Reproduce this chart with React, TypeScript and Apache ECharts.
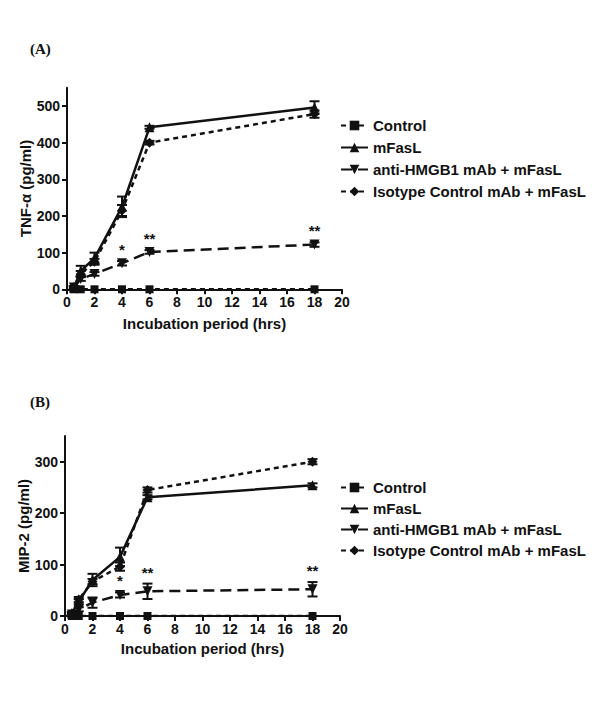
import React, { useEffect, useRef } from "react";
import * as echarts from "echarts";

const times = [0.5, 1, 2, 4, 6, 18];
const seriesNames = ["Control", "mFasL", "anti-HMGB1 mAb + mFasL", "Isotype Control mAb + mFasL"];

// Panel A: TNF-alpha (pg/ml)
const ctrlA = [0, 0, 0, 0, 0, 0];
const mfaslA = [5, 50, 85, 225, 442, 496];
const antiA = [5, 28, 42, 71, 102, 122];
const isoA = [5, 42, 75, 215, 400, 478];
const ctrlAErr = [0, 0, 0, 0, 0, 0];
const mfaslAErr = [4, 14, 15, 28, 4, 17];
const antiAErr = [3, 5, 5, 6, 5, 6];
const isoAErr = [3, 8, 8, 15, 5, 10];
const sigA = [
  { t: 4, label: "*" },
  { t: 6, label: "**" },
  { t: 18, label: "**" },
];

// Panel B: MIP-2 (pg/ml)
const ctrlB = [0, 0, 0, 0, 0, 0];
const mfaslB = [5, 28, 70, 115, 231, 254];
const antiB = [3, 13, 26, 41, 48, 52];
const isoB = [5, 32, 67, 96, 245, 300];
const ctrlBErr = [0, 0, 0, 0, 0, 0];
const mfaslBErr = [3, 5, 12, 18, 4, 4];
const antiBErr = [2, 4, 10, 5, 15, 14];
const isoBErr = [3, 5, 5, 8, 5, 5];
const sigB = [
  { t: 4, label: "*" },
  { t: 6, label: "**" },
  { t: 18, label: "**" },
];

const xTicks = [0, 2, 4, 6, 8, 10, 12, 14, 16, 18, 20];
const yTicksA = [0, 100, 200, 300, 400, 500];
const yTicksB = [0, 100, 200, 300];

const INK = "#111";
const FONT = "Liberation Sans";

const styles = [
  { symbol: "rect", rotate: 0, dash: [5, 4] as any, size: 8 },
  { symbol: "triangle", rotate: 0, dash: "solid" as any, size: 10 },
  { symbol: "triangle", rotate: 180, dash: [11, 6] as any, size: 10 },
  { symbol: "diamond", rotate: 0, dash: [5, 4] as any, size: 10 },
];

function errSeries(idx: number, vals: number[], errs: number[]) {
  const data = times.map((t, i) => [t, vals[i], errs[i]]);
  return {
    type: "custom",
    xAxisIndex: idx,
    yAxisIndex: idx,
    silent: true,
    z: 1,
    data,
    renderItem: (params: any, api: any) => {
      const x = api.value(0);
      const y = api.value(1);
      const e = api.value(2);
      if (!e) return { type: "group", children: [] };
      const lo = api.coord([x, y - e]);
      const hi = api.coord([x, y + e]);
      const hw = 5;
      const st = { stroke: INK, lineWidth: 2 };
      return {
        type: "group",
        children: [
          { type: "line", shape: { x1: lo[0], y1: lo[1], x2: hi[0], y2: hi[1] }, style: st },
          { type: "line", shape: { x1: lo[0] - hw, y1: lo[1], x2: lo[0] + hw, y2: lo[1] }, style: st },
          { type: "line", shape: { x1: hi[0] - hw, y1: hi[1], x2: hi[0] + hw, y2: hi[1] }, style: st },
        ],
      };
    },
  };
}

function lineSeries(idx: number, k: number, vals: number[]) {
  const s = styles[k];
  return {
    type: "line",
    name: seriesNames[k],
    xAxisIndex: idx,
    yAxisIndex: idx,
    z: 3,
    data: times.map((t, i) => [t, vals[i]]),
    symbol: s.symbol,
    symbolRotate: s.rotate,
    symbolSize: s.size,
    showSymbol: true,
    itemStyle: { color: INK },
    lineStyle: { color: INK, width: 2.5, type: s.dash },
  };
}

function sigSeries(idx: number, sig: { t: number; label: string }[], vals: number[], errs: number[]) {
  return {
    type: "scatter",
    xAxisIndex: idx,
    yAxisIndex: idx,
    symbolSize: 2,
    itemStyle: { color: "rgba(0,0,0,0)", opacity: 1 },
    z: 4,
    data: sig.map((s) => {
      const i = times.indexOf(s.t);
      return [s.t, vals[i] + errs[i], s.label];
    }),
    label: {
      show: true,
      position: "top",
      distance: 3,
      formatter: (p: any) => p.value[2],
      color: INK,
      opacity: 1,
      fontFamily: FONT,
      fontWeight: "bold",
      fontSize: 15,
    },
  };
}

function axisX(idx: number, nameGap: number) {
  return {
    type: "value",
    gridIndex: idx,
    min: 0,
    max: 20,
    interval: 2,
    name: "Incubation period (hrs)",
    nameLocation: "middle",
    nameGap,
    nameTextStyle: { color: INK, fontFamily: FONT, fontWeight: "bold", fontSize: 15 },
    axisLine: { show: true, onZero: false, lineStyle: { color: INK, width: 2 } },
    axisTick: { show: true, length: 5, lineStyle: { color: INK, width: 2 }, customValues: xTicks },
    axisLabel: { color: INK, fontFamily: FONT, fontWeight: "bold", fontSize: 14, margin: 6, customValues: xTicks },
    splitLine: { show: false },
  };
}

function axisY(idx: number, max: number, ticks: number[], name: string) {
  return {
    type: "value",
    gridIndex: idx,
    min: 0,
    max,
    interval: 100,
    name,
    nameLocation: "middle",
    nameGap: 33,
    nameTextStyle: { color: INK, fontFamily: FONT, fontWeight: "bold", fontSize: 15 },
    axisLine: { show: true, onZero: false, lineStyle: { color: INK, width: 2 } },
    axisTick: { show: true, length: 5, lineStyle: { color: INK, width: 2 }, customValues: ticks },
    axisLabel: { color: INK, fontFamily: FONT, fontWeight: "bold", fontSize: 14, margin: 7, customValues: ticks },
    splitLine: { show: false },
  };
}

function legend(top: number, gap: number) {
  return {
    show: true,
    orient: "vertical",
    left: 335,
    top,
    itemWidth: 27,
    itemHeight: 12,
    itemGap: gap,
    selectedMode: false,
    data: seriesNames,
    textStyle: { color: INK, fontFamily: FONT, fontWeight: "bold", fontSize: 15, lineHeight: 12 },
  };
}

export default function App() {
  const ref = useRef<HTMLDivElement>(null);
  useEffect(() => {
    if (!ref.current) return;
    const chart = echarts.init(ref.current, undefined, { renderer: "svg" });
    const option: any = {
      animation: false,
      backgroundColor: "#fff",
      textStyle: { fontFamily: FONT },
      grid: [
        { left: 67, top: 87.7, width: 275, height: 201.6 },
        { left: 65, top: 436, width: 275, height: 180 },
      ],
      xAxis: [axisX(0, 27), axisX(1, 25)],
      yAxis: [axisY(0, 550, yTicksA, "TNF-α (pg/ml)"), axisY(1, 350, yTicksB, "MIP-2 (pg/ml)")],
      legend: [legend(113, 7), legend(475, 6)],
      graphic: [
        { type: "text", left: 30, top: 41, style: { text: "(A)", fill: INK, font: "bold 15px 'Liberation Serif'" } },
        { type: "text", left: 30, top: 394, style: { text: "(B)", fill: INK, font: "bold 15px 'Liberation Serif'" } },
      ],
      series: [
        errSeries(0, ctrlA, ctrlAErr),
        errSeries(0, mfaslA, mfaslAErr),
        errSeries(0, antiA, antiAErr),
        errSeries(0, isoA, isoAErr),
        lineSeries(0, 0, ctrlA),
        lineSeries(0, 1, mfaslA),
        lineSeries(0, 2, antiA),
        lineSeries(0, 3, isoA),
        sigSeries(0, sigA, antiA, antiAErr),
        errSeries(1, ctrlB, ctrlBErr),
        errSeries(1, mfaslB, mfaslBErr),
        errSeries(1, antiB, antiBErr),
        errSeries(1, isoB, isoBErr),
        lineSeries(1, 0, ctrlB),
        lineSeries(1, 1, mfaslB),
        lineSeries(1, 2, antiB),
        lineSeries(1, 3, isoB),
        sigSeries(1, sigB, antiB, antiBErr),
      ],
    };
    chart.setOption(option);
    return () => chart.dispose();
  }, []);
  return <div ref={ref} style={{ width: 600, height: 709, margin: -8 }} />;
}
